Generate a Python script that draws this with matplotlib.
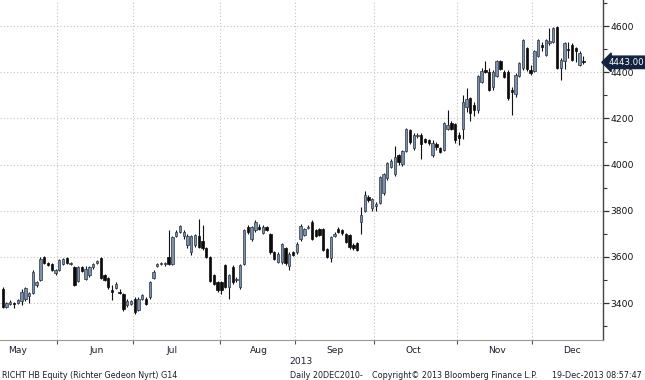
import matplotlib
matplotlib.use('Agg')
import matplotlib.pyplot as plt
import numpy as np

# daily OHLC, RICHT HB, mid-May to 19-Dec-2013
opens = [3460, 3385, 3395, 3400, 3400, 3410, 3420, 3430, 3445, 3480,
         3500, 3600, 3575, 3570, 3530, 3545, 3570, 3595, 3570, 3555,
         3495, 3555, 3505, 3520, 3555, 3575, 3595, 3520, 3510, 3455,
         3465, 3450, 3440, 3390, 3395, 3420, 3370, 3420, 3420, 3425,
         3510, 3560, 3570, 3570, 3600, 3570, 3690, 3710, 3690, 3650,
         3620, 3650, 3690, 3670, 3640, 3600, 3520, 3490, 3492, 3564,
         3471, 3557, 3500, 3471, 3571, 3730, 3679, 3715, 3730, 3705,
         3730, 3700, 3620, 3580, 3580, 3640, 3560, 3620, 3620, 3680,
         3695, 3725, 3750, 3715, 3720, 3720, 3635, 3595, 3690, 3720,
         3715, 3700, 3695, 3650, 3660, 3750, 3800, 3860, 3810, 3820,
         3835, 3875, 3940, 3990, 3960, 4040, 4003, 4060, 4150, 4070,
         4125, 4130, 4110, 4105, 4040, 4090, 4070, 4065, 4155, 4180,
         4175, 4130, 4155, 4250, 4290, 4260, 4235, 4360, 4410, 4400,
         4335, 4385, 4450, 4400, 4400, 4325, 4305, 4385, 4420, 4505,
         4410, 4405, 4470, 4520, 4475, 4525, 4530, 4595, 4420, 4450,
         4500, 4520, 4505, 4430, 4450]
highs = [3470, 3405, 3415, 3405, 3420, 3460, 3470, 3450, 3545, 3495,
         3600, 3605, 3580, 3575, 3550, 3590, 3595, 3600, 3580, 3560,
         3560, 3560, 3560, 3560, 3575, 3585, 3600, 3525, 3515, 3480,
         3490, 3460, 3445, 3420, 3415, 3425, 3425, 3440, 3425, 3495,
         3545, 3575, 3580, 3580, 3715, 3690, 3715, 3740, 3715, 3700,
         3695, 3700, 3765, 3740, 3645, 3605, 3525, 3495, 3495, 3570,
         3525, 3565, 3515, 3570, 3720, 3740, 3735, 3760, 3745, 3740,
         3735, 3705, 3625, 3620, 3660, 3645, 3620, 3625, 3665, 3745,
         3725, 3740, 3760, 3720, 3725, 3725, 3640, 3690, 3710, 3730,
         3720, 3705, 3700, 3660, 3665, 3815, 3885, 3870, 3855, 3840,
         3950, 3965, 4010, 4025, 4080, 4045, 4065, 4160, 4155, 4135,
         4135, 4135, 4115, 4110, 4105, 4100, 4075, 4185, 4235, 4190,
         4180, 4140, 4300, 4330, 4295, 4270, 4390, 4420, 4450, 4420,
         4410, 4455, 4455, 4410, 4410, 4335, 4395, 4445, 4545, 4510,
         4430, 4495, 4545, 4530, 4545, 4590, 4595, 4600, 4460, 4530,
         4530, 4525, 4510, 4490, 4470]
lows = [3380, 3380, 3390, 3380, 3395, 3390, 3410, 3400, 3440, 3470,
        3495, 3570, 3560, 3540, 3520, 3540, 3565, 3570, 3565, 3475,
        3490, 3535, 3500, 3515, 3550, 3570, 3505, 3495, 3460, 3415,
        3460, 3440, 3365, 3385, 3390, 3355, 3365, 3415, 3390, 3420,
        3505, 3555, 3565, 3560, 3565, 3565, 3685, 3705, 3680, 3640,
        3610, 3645, 3640, 3630, 3595, 3490, 3480, 3450, 3440, 3465,
        3420, 3485, 3490, 3460, 3565, 3700, 3670, 3710, 3715, 3700,
        3712, 3615, 3585, 3575, 3570, 3565, 3545, 3605, 3615, 3670,
        3690, 3720, 3675, 3685, 3690, 3625, 3595, 3580, 3685, 3705,
        3695, 3660, 3635, 3630, 3628, 3700, 3795, 3840, 3800, 3800,
        3830, 3870, 3935, 3985, 3950, 4000, 3995, 4055, 4090, 4065,
        4115, 4025, 4095, 4085, 4035, 4065, 4050, 4060, 4150, 4150,
        4095, 4085, 4110, 4230, 4190, 4210, 4225, 4355, 4395, 4320,
        4325, 4380, 4410, 4375, 4280, 4215, 4295, 4380, 4410, 4405,
        4390, 4400, 4465, 4490, 4470, 4520, 4525, 4415, 4365, 4415,
        4460, 4450, 4445, 4425, 4435]
closes = [3385, 3400, 3405, 3398, 3415, 3450, 3465, 3445, 3535, 3490,
          3590, 3575, 3565, 3545, 3545, 3585, 3590, 3575, 3575, 3480,
          3555, 3540, 3550, 3555, 3570, 3582, 3510, 3500, 3470, 3450,
          3485, 3445, 3375, 3410, 3410, 3360, 3420, 3435, 3395, 3490,
          3535, 3570, 3575, 3575, 3570, 3685, 3710, 3735, 3710, 3690,
          3690, 3695, 3645, 3640, 3600, 3495, 3485, 3455, 3456, 3471,
          3521, 3492, 3506, 3564, 3715, 3710, 3730, 3750, 3720, 3730,
          3715, 3620, 3593, 3615, 3655, 3575, 3615, 3610, 3655, 3735,
          3720, 3730, 3680, 3690, 3695, 3630, 3600, 3685, 3700, 3710,
          3705, 3665, 3645, 3640, 3630, 3780, 3870, 3845, 3850, 3830,
          3945, 3960, 4005, 4015, 4035, 4010, 4060, 4155, 4100, 4130,
          4130, 4090, 4100, 4095, 4095, 4075, 4055, 4180, 4170, 4155,
          4105, 4115, 4270, 4285, 4225, 4235, 4385, 4405, 4400, 4325,
          4400, 4450, 4415, 4380, 4290, 4315, 4390, 4440, 4540, 4415,
          4395, 4490, 4540, 4510, 4540, 4535, 4590, 4420, 4455, 4525,
          4495, 4455, 4490, 4485, 4443]

months = ['May', 'Jun', 'Jul', 'Aug', 'Sep', 'Oct', 'Nov', 'Dec']
month_starts = [-6, 15, 35, 58, 78, 99, 121, 141]  # trading-day index of 1st day
last_price = 4443.00

plt.rcParams['font.family'] = ['DejaVu Sans']
txt_col = '#1a1f2b'

o = np.array(opens, dtype=float)
h = np.array(highs, dtype=float)
l = np.array(lows, dtype=float)
c = np.array(closes, dtype=float)
idx = np.arange(len(c))
up = c >= o

fig = plt.figure(figsize=(6.45, 3.8), dpi=100)
ax = fig.add_axes([0, 0.105, 603 / 645, 0.895])

# wicks + bodies
ax.vlines(idx, l, h, color='#111111', lw=0.8, zorder=2)
body_lo = np.minimum(o, c)
body_h = np.maximum(np.abs(c - o), 4)
ax.bar(idx[up], body_h[up], bottom=body_lo[up], width=0.62,
       color='#7c90a8', edgecolor='#2a3548', lw=0.5, zorder=3)
ax.bar(idx[~up], body_h[~up], bottom=body_lo[~up], width=0.62,
       color='#0b0b0b', edgecolor='#0b0b0b', lw=0.5, zorder=3)

ax.set_xlim(-0.72, 159.2)
ax.set_ylim(3240, 4713)

# y axis on the right
ax.yaxis.tick_right()
ax.set_yticks(np.arange(3400, 4601, 200))
ax.set_yticks(np.arange(3300, 4701, 200), minor=True)
ax.tick_params(axis='y', which='major', direction='out', length=4, width=0.9,
               color='#333333', labelsize=6.6, labelcolor='#111111', pad=1.5)
ax.tick_params(axis='y', which='minor', direction='out', length=3, width=0.8,
               color='#333333')

# x axis: month boundaries get gridlines, labels sit mid-month
ax.set_xticks([s - 0.5 for s in month_starts[1:]])
ax.set_xticklabels([])
ax.set_xticks([s + 10 for s in month_starts], minor=True)
ax.set_xticklabels(months, minor=True)
ax.tick_params(axis='x', which='major', direction='out', length=3, width=0.8,
               color='#555555')
ax.tick_params(axis='x', which='minor', length=0, labelsize=6.6,
               labelcolor=txt_col, pad=4)

ax.grid(True, which='major', ls=(0, (1, 2)), color='#c4c4c4', lw=0.8, zorder=0)

for s in ['left', 'top']:
    ax.spines[s].set_visible(False)
ax.spines['right'].set_color('#444444')
ax.spines['right'].set_linewidth(1.0)
ax.spines['bottom'].set_color('#9a9a9a')
ax.spines['bottom'].set_linewidth(0.8)

# last price tag
ax.annotate(f'{last_price:.2f}', xy=(1.0, last_price),
            xycoords=('axes fraction', 'data'),
            xytext=(4, 0), textcoords='offset points',
            ha='left', va='center', fontsize=6.2, color='white',
            bbox=dict(boxstyle='larrow,pad=0.2', fc='#13233f', ec='#13233f'),
            annotation_clip=False, zorder=5)

fig.text(301 / 645, 1 - 361 / 380, '2013', ha='center', va='center',
         fontsize=6.6, color=txt_col)
fy = 1 - 375 / 380
fig.text(2 / 645, fy, 'RICHT HB Equity (Richter Gedeon Nyrt) G14',
         ha='left', va='center', fontsize=5.8, color=txt_col)
fig.text(290 / 645, fy, 'Daily 20DEC2010-', ha='left', va='center',
         fontsize=5.8, color=txt_col)
fig.text(372 / 645, fy, 'Copyright\u00a9 2013 Bloomberg Finance L.P.',
         ha='left', va='center', fontsize=5.8, color=txt_col)
fig.text(642 / 645, fy, '19-Dec-2013 08:57:47', ha='right', va='center',
         fontsize=5.8, color=txt_col)

fig.savefig('out.png', dpi=100, facecolor='white')
